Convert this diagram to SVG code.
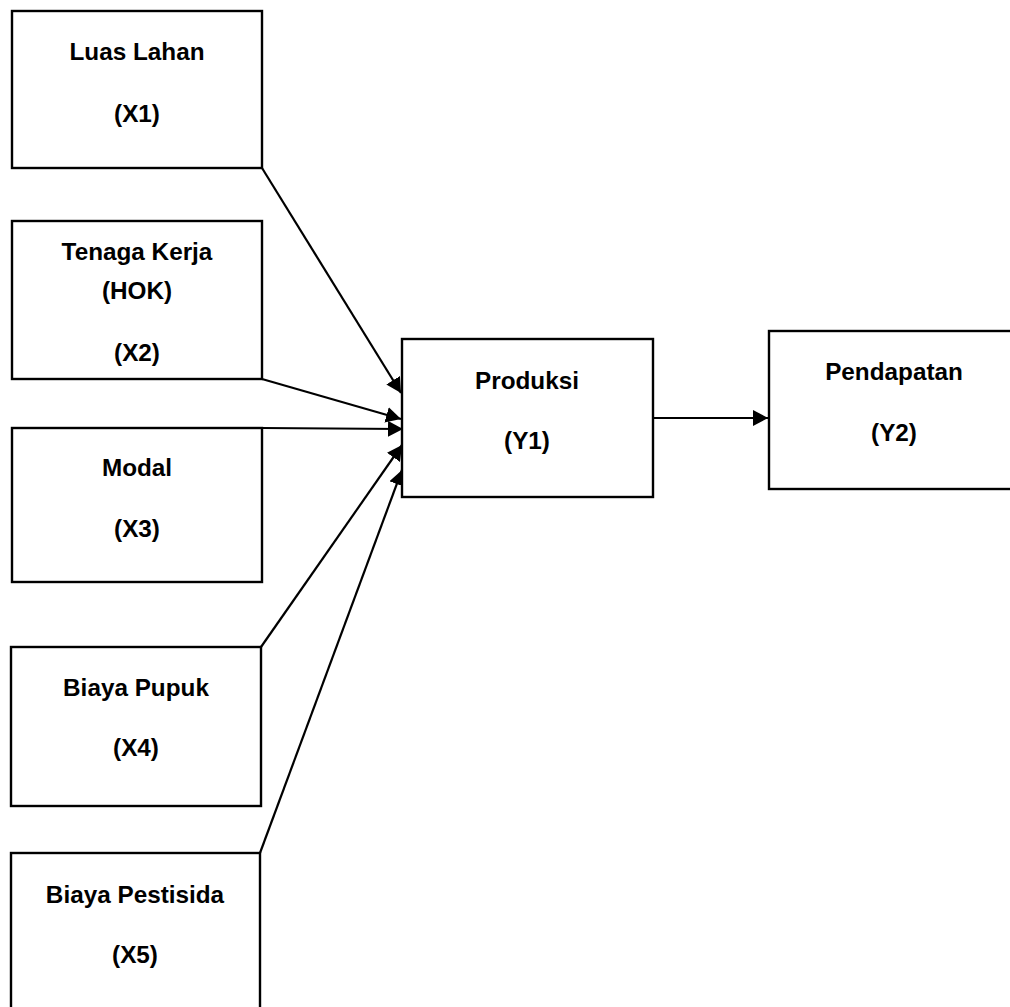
<svg xmlns="http://www.w3.org/2000/svg" width="1010" height="1007" viewBox="0 0 1010 1007">
<style>
.box{fill:#fff;stroke:#000;stroke-width:2.4}
.t{font-family:"Liberation Sans",Arial,sans-serif;font-weight:bold;font-size:24.3px;text-anchor:middle;fill:#000}
.c{stroke:#000;stroke-width:2.2;fill:none}
</style>
<defs>
<marker id="ah" viewBox="0 0 15 16" refX="15" refY="8" markerWidth="15" markerHeight="16" markerUnits="userSpaceOnUse" orient="auto">
<path d="M0,0 L15,8 L0,16 Z" fill="#000"/>
</marker>
</defs>
<rect width="1010" height="1007" fill="#fff"/>
<g id="connectors">
<line class="c" x1="262" y1="168" x2="401" y2="393" marker-end="url(#ah)"/>
<line class="c" x1="262" y1="379" x2="401" y2="419" marker-end="url(#ah)"/>
<line class="c" x1="262" y1="428" x2="403" y2="429" marker-end="url(#ah)"/>
<line class="c" x1="261" y1="647" x2="402" y2="445" marker-end="url(#ah)"/>
<line class="c" x1="260" y1="853" x2="402" y2="470" marker-end="url(#ah)"/>
<line class="c" x1="653" y1="418" x2="768" y2="418" marker-end="url(#ah)"/>
</g>
<g id="x1">
<rect class="box" x="12" y="11" width="250" height="157"/>
<text class="t" x="137" y="60">Luas Lahan</text>
<text class="t" x="137" y="122">(X1)</text>
</g>
<g id="x2">
<rect class="box" x="12" y="221" width="250" height="158"/>
<text class="t" x="137" y="260">Tenaga Kerja</text>
<text class="t" x="137" y="299">(HOK)</text>
<text class="t" x="137" y="361">(X2)</text>
</g>
<g id="x3">
<rect class="box" x="12" y="428" width="250" height="154"/>
<text class="t" x="137" y="476">Modal</text>
<text class="t" x="137" y="537">(X3)</text>
</g>
<g id="x4">
<rect class="box" x="11" y="647" width="250" height="159"/>
<text class="t" x="136" y="696">Biaya Pupuk</text>
<text class="t" x="136" y="756">(X4)</text>
</g>
<g id="x5">
<rect class="box" x="11" y="853" width="249" height="170"/>
<text class="t" x="135" y="903">Biaya Pestisida</text>
<text class="t" x="135" y="963">(X5)</text>
</g>
<g id="y1">
<rect class="box" x="402" y="339" width="251" height="158"/>
<text class="t" x="527" y="389">Produksi</text>
<text class="t" x="527" y="449">(Y1)</text>
</g>
<g id="y2">
<rect class="box" x="769" y="331" width="260" height="158"/>
<text class="t" x="894" y="380">Pendapatan</text>
<text class="t" x="894" y="441">(Y2)</text>
</g>
</svg>
